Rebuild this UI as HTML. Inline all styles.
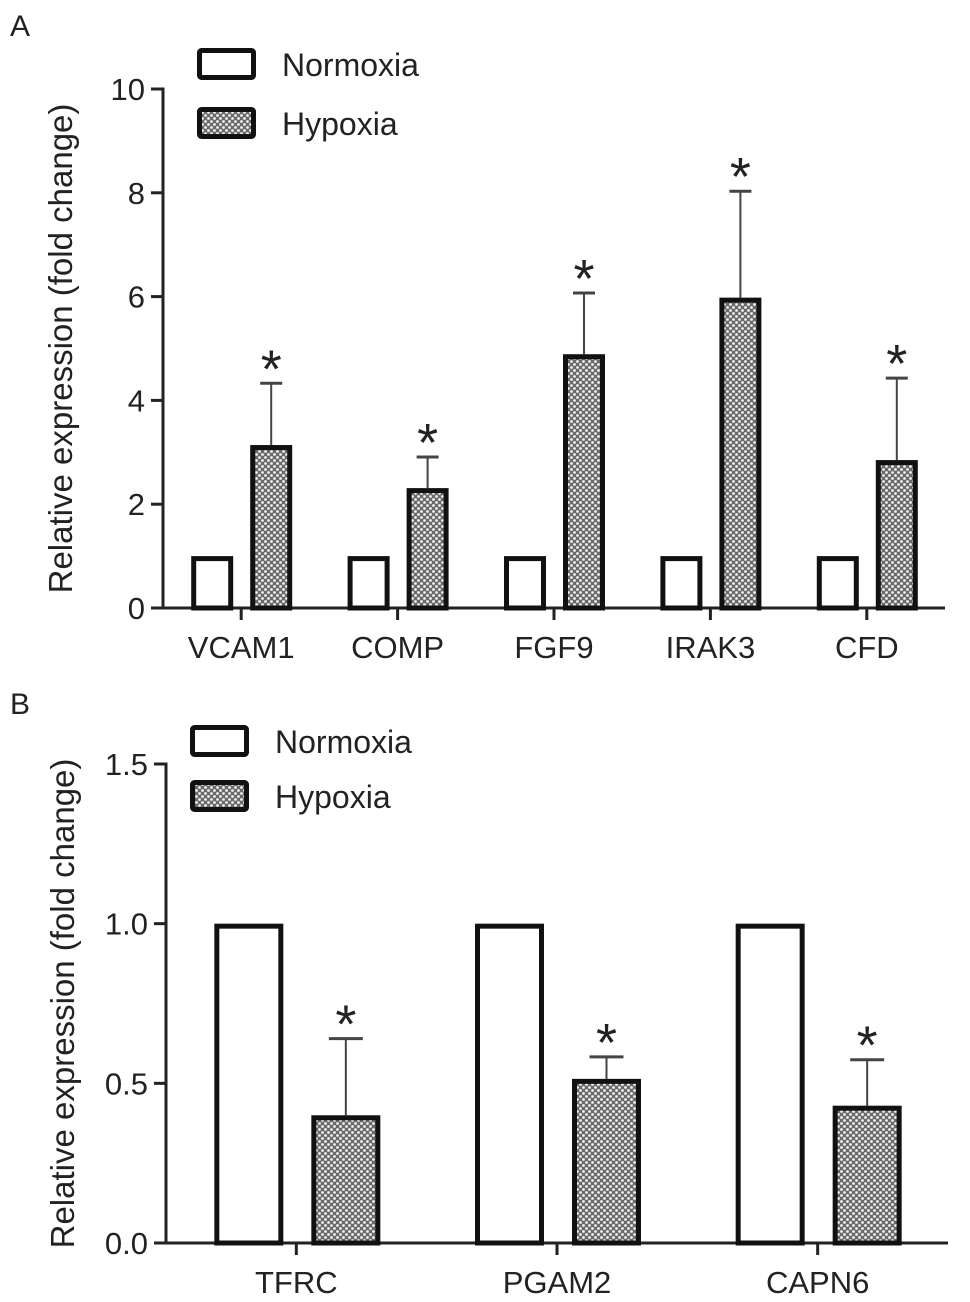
<!DOCTYPE html>
<html><head><meta charset="utf-8">
<style>
html,body{margin:0;padding:0;background:#fff;}
svg{display:block;font-family:"Liberation Sans",Arial,sans-serif;}
</style></head>
<body>
<svg id="chart" width="970" height="1302" viewBox="0 0 970 1302">
<defs>
<pattern id="dots" width="6" height="6" patternUnits="userSpaceOnUse">
<rect width="6" height="6" fill="#6a6a6a"/>
<circle cx="1.5" cy="1.5" r="1.4" fill="#f2f2f2"/>
<circle cx="4.5" cy="4.5" r="1.4" fill="#f2f2f2"/>
</pattern>
</defs>
<g id="panelA"></g>
<g id="panelB"></g>
</svg>
<script>
// Panel A data
const catsA = ["VCAM1","COMP","FGF9","IRAK3","CFD"];
const normA = [1,1,1,1,1];
const hypA = [3.14,2.31,4.89,5.98,2.85];
const hypErrA = [1.19,0.60,1.18,2.05,1.58];
const ticksA = [0,2,4,6,8,10];
const tickLabelsA = ["0","2","4","6","8","10"];
// Panel B data
const catsB = ["TFRC","PGAM2","CAPN6"];
const normB = [1,1,1];
const hypB = [0.40,0.514,0.43];
const hypErrB = [0.24,0.069,0.144];
const ticksB = [0,0.5,1.0,1.5];
const tickLabelsB = ["0.0","0.5","1.0","1.5"];

const NS="http://www.w3.org/2000/svg";
function mk(parent,tag,attrs,text){
  const e=document.createElementNS(NS,tag);
  for(const k in attrs) e.setAttribute(k,attrs[k]);
  if(text!==undefined) e.textContent=text;
  parent.appendChild(e); return e;
}

function drawPanel(g,cfg){
  const y=v=>cfg.y0-(v-cfg.vmin)/(cfg.vmax-cfg.vmin)*(cfg.y0-cfg.y1);
  const band=(cfg.xEnd-cfg.x0)/cfg.cats.length;
  const cx=i=>cfg.x0+(i+0.5)*band;
  const L=mk(g,'text',{x:10,y:cfg.letterY,'font-size':30,fill:'#222'},cfg.letter);
  
  
  const ya=mk(g,'line',{x1:cfg.x0,y1:y(cfg.vmax)-1.5,x2:cfg.x0,y2:cfg.y0+1.5,stroke:'#222','stroke-width':3});
  
  
  cfg.ticks.forEach((t,i)=>{
    const tl=mk(g,'line',{x1:cfg.x0-12,y1:y(t),x2:cfg.x0,y2:y(t),stroke:'#222','stroke-width':3});
    
    
    const tx=mk(g,'text',{x:cfg.x0-18,y:y(t)+11,'font-size':31,'text-anchor':'end',fill:'#222'},cfg.tickLabels[i]);
    
    
  });
  const yt=mk(g,'text',{x:0,y:0,'font-size':33,'text-anchor':'middle',fill:'#222',
    transform:`translate(${cfg.titleX},${(cfg.y0+y(cfg.vmax))/2}) rotate(-90)`},'Relative expression (fold change)');
  
  
  const xa=mk(g,'line',{x1:cfg.x0,y1:cfg.y0,x2:cfg.xEnd,y2:cfg.y0,stroke:'#222','stroke-width':3});
  
  
  cfg.cats.forEach((c,i)=>{
    const xc=cx(i);
    const xt=mk(g,'line',{x1:xc,y1:cfg.y0,x2:xc,y2:cfg.y0+12,stroke:'#222','stroke-width':3});
    
    
    const lab=mk(g,'text',{x:xc,y:cfg.y0+50,'font-size':31,'text-anchor':'middle',fill:'#222'},c);
    
    
    const nx=xc+cfg.nOff, hx=xc+cfg.hOff, w=cfg.bw;
    const nb=mk(g,'rect',{x:nx+2.5,y:y(cfg.norm[i])+2.5,width:w-5,height:cfg.y0-y(cfg.norm[i])-2.5,fill:'#fff',stroke:'#111','stroke-width':5});
    
    
    const top=y(cfg.hyp[i]+cfg.err[i]), hc=hx+w/2;
    const el=mk(g,'line',{x1:hc,y1:top,x2:hc,y2:y(cfg.hyp[i]),stroke:'#444','stroke-width':2});
    
    
    const ec=mk(g,'line',{x1:hc-cfg.cap/2,y1:top,x2:hc+cfg.cap/2,y2:top,stroke:'#444','stroke-width':3});
    
    
    const hb=mk(g,'rect',{x:hx+2.5,y:y(cfg.hyp[i])+2.5,width:w-5,height:cfg.y0-y(cfg.hyp[i])-2.5,fill:'url(#dots)',stroke:'#111','stroke-width':5});
    
    
    const st=mk(g,'text',{x:hc,y:top+4,'font-size':54,'text-anchor':'middle',fill:'#222'},'*');
    
    
  });
  const lg=mk(g,'g',{});
  
  
  const l1=mk(lg,'rect',{x:cfg.legX+2.5,y:cfg.legY1+2.5,width:54,height:27,fill:'#fff',stroke:'#111','stroke-width':5,rx:2});
  
  
  const t1=mk(lg,'text',{x:cfg.legTx,y:cfg.legY1+28,'font-size':32,fill:'#222'},'Normoxia');
  
  
  const l2=mk(lg,'rect',{x:cfg.legX+2.5,y:cfg.legY2+2.5,width:54,height:27,fill:'url(#dots)',stroke:'#111','stroke-width':5,rx:2});
  
  
  const t2=mk(lg,'text',{x:cfg.legTx,y:cfg.legY2+28,'font-size':32,fill:'#222'},'Hypoxia');
  
  
}

drawPanel(document.getElementById('panelA'),{
  letter:'A',letterY:36,cats:catsA,norm:normA,hyp:hypA,err:hypErrA,ticks:ticksA,tickLabels:tickLabelsA,
  vmin:0,vmax:10,y0:608,y1:89,x0:163,xEnd:945,nOff:-50,hOff:9,bw:42,cap:22,titleX:72,
  legX:197,legY1:48,legY2:107,legTx:282
});
drawPanel(document.getElementById('panelB'),{
  letter:'B',letterY:714,cats:catsB,norm:normB,hyp:hypB,err:hypErrB,ticks:ticksB,tickLabels:tickLabelsB,
  vmin:0,vmax:1.5,y0:1243,y1:764,x0:166,xEnd:948,nOff:-82,hOff:15,bw:69,cap:34,titleX:74,
  legX:190,legY1:725,legY2:780,legTx:275
});
</script>
</body></html>
